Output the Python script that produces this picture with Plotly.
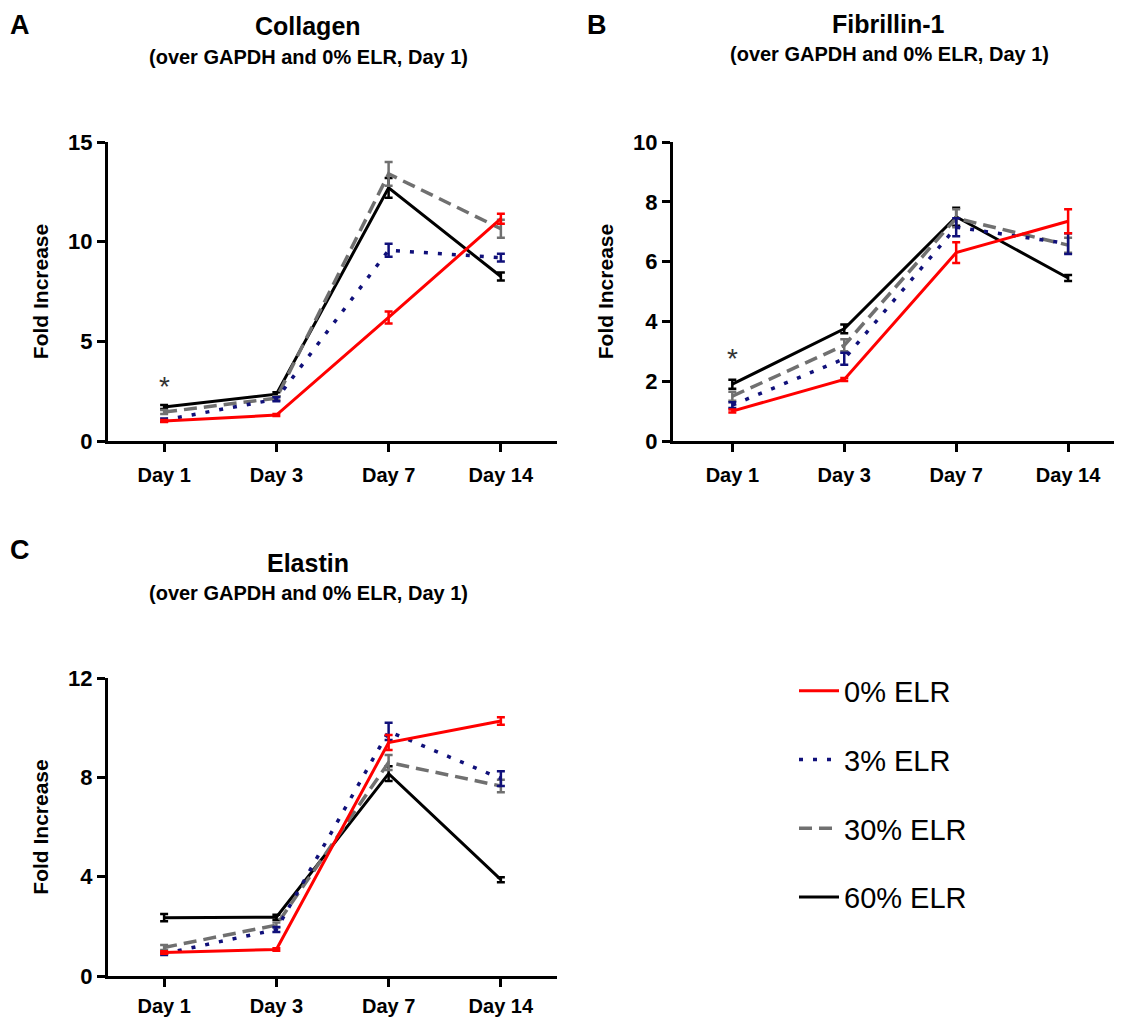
import plotly.graph_objects as go

days = ["Day 1", "Day 3", "Day 7", "Day 14"]
series_names = ["0% ELR", "3% ELR", "30% ELR", "60% ELR"]

# Collagen
col_0 = [1.0, 1.3, 6.2, 11.15]
col_0_err = [0.05, 0.05, 0.3, 0.25]
col_3 = [1.05, 2.1, 9.57, 9.2]
col_3_err = [0.08, 0.1, 0.33, 0.2]
col_30 = [1.45, 2.15, 13.4, 10.65]
col_30_err = [0.1, 0.1, 0.6, 0.45]
col_60 = [1.7, 2.35, 12.7, 8.25]
col_60_err = [0.1, 0.1, 0.5, 0.2]

# Fibrillin-1
fib_0 = [1.0, 2.06, 6.3, 7.35]
fib_0_err = [0.05, 0.05, 0.35, 0.4]
fib_3 = [1.2, 2.75, 7.15, 6.6]
fib_3_err = [0.1, 0.2, 0.3, 0.35]
fib_30 = [1.5, 3.2, 7.45, 6.55]
fib_30_err = [0.15, 0.2, 0.3, 0.25]
fib_60 = [1.9, 3.75, 7.5, 5.45]
fib_60_err = [0.15, 0.15, 0.3, 0.1]

# Elastin
ela_0 = [0.95, 1.07, 9.4, 10.27]
ela_0_err = [0.05, 0.05, 0.3, 0.15]
ela_3 = [0.9, 1.87, 9.85, 7.95]
ela_3_err = [0.05, 0.1, 0.35, 0.3]
ela_30 = [1.15, 2.05, 8.6, 7.65]
ela_30_err = [0.1, 0.1, 0.3, 0.25]
ela_60 = [2.35, 2.37, 8.15, 3.88]
ela_60_err = [0.15, 0.1, 0.3, 0.1]

star_value = 2.75

FONT = "Liberation Sans, Arial, sans-serif"
colors = {"0% ELR": "#ff0000", "3% ELR": "#10107a", "30% ELR": "#707070", "60% ELR": "#000000"}
dashes = {"0% ELR": "solid", "3% ELR": "4px,10px", "30% ELR": "13px,7px", "60% ELR": "solid"}
widths = {"0% ELR": 3, "3% ELR": 3.5, "30% ELR": 3.5, "60% ELR": 3}
ranks = {"0% ELR": 1, "3% ELR": 2, "30% ELR": 3, "60% ELR": 4}

panels = [
    ("x", "y", {"0% ELR": (col_0, col_0_err), "3% ELR": (col_3, col_3_err),
                "30% ELR": (col_30, col_30_err), "60% ELR": (col_60, col_60_err)}),
    ("x2", "y2", {"0% ELR": (fib_0, fib_0_err), "3% ELR": (fib_3, fib_3_err),
                  "30% ELR": (fib_30, fib_30_err), "60% ELR": (fib_60, fib_60_err)}),
    ("x3", "y3", {"0% ELR": (ela_0, ela_0_err), "3% ELR": (ela_3, ela_3_err),
                  "30% ELR": (ela_30, ela_30_err), "60% ELR": (ela_60, ela_60_err)}),
]

fig = go.Figure()
draw_order = ["60% ELR", "30% ELR", "3% ELR", "0% ELR"]
for pi, (xa, ya, data) in enumerate(panels):
    for name in draw_order:
        vals, errs = data[name]
        fig.add_trace(go.Scatter(
            x=days, y=vals, xaxis=xa, yaxis=ya, mode="lines", name=name,
            legendgroup=name, legendrank=ranks[name], showlegend=(pi == 0),
            line=dict(color=colors[name], width=widths[name], dash=dashes[name]),
            error_y=dict(type="data", array=errs, visible=True, color=colors[name],
                         thickness=2.5, width=4),
            cliponaxis=False,
        ))

# page body has an 8px margin; figure sized so the page fits the window
OFF = 8
W, H = 1122 - 2 * OFF, 1028 - 2 * OFF
def px_x(p):
    return min(max((p - OFF) / W, 0), 1)
def px_y(p):
    return min(max(1 - (p - OFF) / H, 0), 1)

tickfont_y = dict(family=FONT, size=22, color="black", weight="bold")
tickfont_x = dict(family=FONT, size=20, color="black", weight="bold")
common_x = dict(type="category", range=[-0.5, 3.5], showline=True, linewidth=3, linecolor="black",
                ticks="outside", ticklen=8, tickwidth=3, tickcolor="black", showgrid=False,
                zeroline=False, tickfont=tickfont_x, fixedrange=True, ticklabelstandoff=6)
common_y = dict(showline=True, linewidth=3, linecolor="black", ticks="outside", ticklen=8,
                tickwidth=3, tickcolor="black", showgrid=False, zeroline=False,
                tickfont=tickfont_y, fixedrange=True,
                title=dict(text="<b>Fold Increase</b>", font=dict(family=FONT, size=21, color="black"),
                           standoff=14))

fig.update_layout(
    width=W, height=H, plot_bgcolor="white", paper_bgcolor="white",
    margin=dict(l=0, r=0, t=0, b=0, autoexpand=False),
    font=dict(family=FONT, color="black"),
    xaxis=dict(common_x, domain=[px_x(108), px_x(557)], anchor="y"),
    yaxis=dict(common_y, domain=[px_y(441), px_y(142)], range=[0, 15], dtick=5, anchor="x"),
    xaxis2=dict(common_x, domain=[px_x(673), 1.0], anchor="y2"),
    yaxis2=dict(common_y, domain=[px_y(441), px_y(142)], range=[0, 10], dtick=2, anchor="x2"),
    xaxis3=dict(common_x, domain=[px_x(108), px_x(557)], anchor="y3"),
    yaxis3=dict(common_y, domain=[px_y(976), px_y(678)], range=[0, 12], dtick=4, anchor="x3"),
    legend=dict(x=px_x(794), y=px_y(794), xanchor="left", yanchor="middle",
                font=dict(family=FONT, size=29, color="black"),
                tracegroupgap=28, traceorder="grouped", itemwidth=40,
                bgcolor="rgba(0,0,0,0)"),
    showlegend=True,
)
fig.update_xaxes(range=[-0.53, 3.41], selector=dict(anchor="y2"))
fig.update_xaxes(ticklabelstandoff=2, selector=dict(anchor="y3"))

annotations = []
def add_text(text, x, y, size, bold=True, color="black"):
    annotations.append(dict(text=(f"<b>{text}</b>" if bold else text), x=px_x(x), y=px_y(y),
                            xref="paper", yref="paper", showarrow=False, xanchor="center",
                            yanchor="middle", font=dict(family=FONT, size=size, color=color)))

add_text("A", 20, 25, 27)
add_text("Collagen", 308, 26, 25)
add_text("(over GAPDH and 0% ELR, Day 1)", 308, 57, 20)
add_text("B", 597, 25, 27)
add_text("Fibrillin-1", 888, 24, 25)
add_text("(over GAPDH and 0% ELR, Day 1)", 889, 54, 20)
add_text("C", 20, 550, 27)
add_text("Elastin", 308, 563, 25)
add_text("(over GAPDH and 0% ELR, Day 1)", 308, 593, 20)

for xa, ya in [("x", "y"), ("x2", "y2")]:
    annotations.append(dict(text="*", x=days[0], y=star_value, xref=xa, yref=ya, showarrow=False,
                            yanchor="middle", font=dict(family=FONT, size=28, color="#333333")))

fig.update_layout(annotations=annotations)
fig.write_html("out.html")
